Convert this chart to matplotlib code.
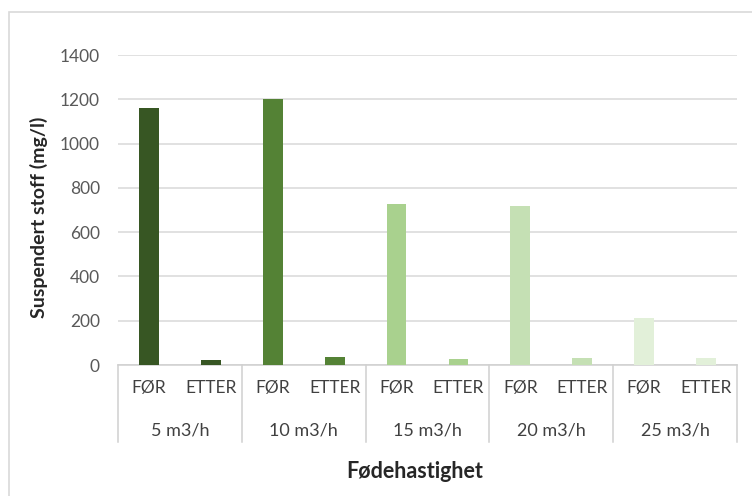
import matplotlib.pyplot as plt
import matplotlib.patches as patches
import numpy as np

groups = ['5 m3/h', '10 m3/h', '15 m3/h', '20 m3/h', '25 m3/h']
subcats = ['FØR', 'ETTER']
for_vals = [1160, 1200, 728, 718, 212]
etter_vals = [24, 36, 26, 32, 30]
colors = ['#375623', '#548235', '#A9D18E', '#C5E0B4', '#E2F0D9']

plt.rcParams['font.family'] = ['Lato', 'DejaVu Sans']

fig = plt.figure(figsize=(7.52, 4.96), dpi=100)
ax = fig.add_axes([118/752, 1-365/496, (737-118)/752, 310/496])

# chart border (runs off the right and bottom edges)
fig.patches.append(patches.Rectangle((8.5/752, -10/496), 760/752, (484+10)/496,
                   transform=fig.transFigure, fill=False,
                   edgecolor='#D9D9D9', linewidth=1.2))

n = len(groups)
pos = np.arange(n * 2)
vals = []
cols = []
for i in range(n):
    vals += [for_vals[i], etter_vals[i]]
    cols += [colors[i], colors[i]]
ax.bar(pos, vals, width=0.32, color=cols, zorder=3)

ax.set_xlim(-0.5, n * 2 - 0.5)
ax.set_ylim(0, 1400)
ax.set_yticks(np.arange(0, 1401, 200))
ax.yaxis.grid(True, color='#D9D9D9', linewidth=1.1, zorder=0)
ax.tick_params(axis='y', length=0, pad=13, labelsize=12.5, labelcolor='#595959')
for s in ['top', 'right', 'left']:
    ax.spines[s].set_visible(False)
ax.spines['bottom'].set_color('#D0D0D0')
ax.spines['bottom'].set_linewidth(1.1)

ax.set_xticks(pos)
ax.set_xticklabels(subcats * n)
ax.tick_params(axis='x', length=0, pad=11, labelsize=12.5, labelcolor='#404040')

# group labels and separators
trans = ax.get_xaxis_transform()
for i, g in enumerate(groups):
    ax.text(2 * i + 0.5, -0.21, g, transform=trans, ha='center', va='center',
            fontsize=13, color='#404040')
for k in range(n + 1):
    x = 2 * k - 0.5
    ax.plot([x, x], [0, -0.247], transform=trans, color='#D0D0D0',
            linewidth=1.1, clip_on=False)

fig.text(39/752, 1-217/496, 'Suspendert stoff (mg/l)', rotation=90,
         ha='center', va='center', fontsize=14, fontweight='bold',
         color='#262626')
fig.text(415/752, 1-471/496, 'Fødehastighet', ha='center', va='center',
         fontsize=15.5, fontweight='bold', color='#262626')

fig.savefig('out.png', dpi=100)
